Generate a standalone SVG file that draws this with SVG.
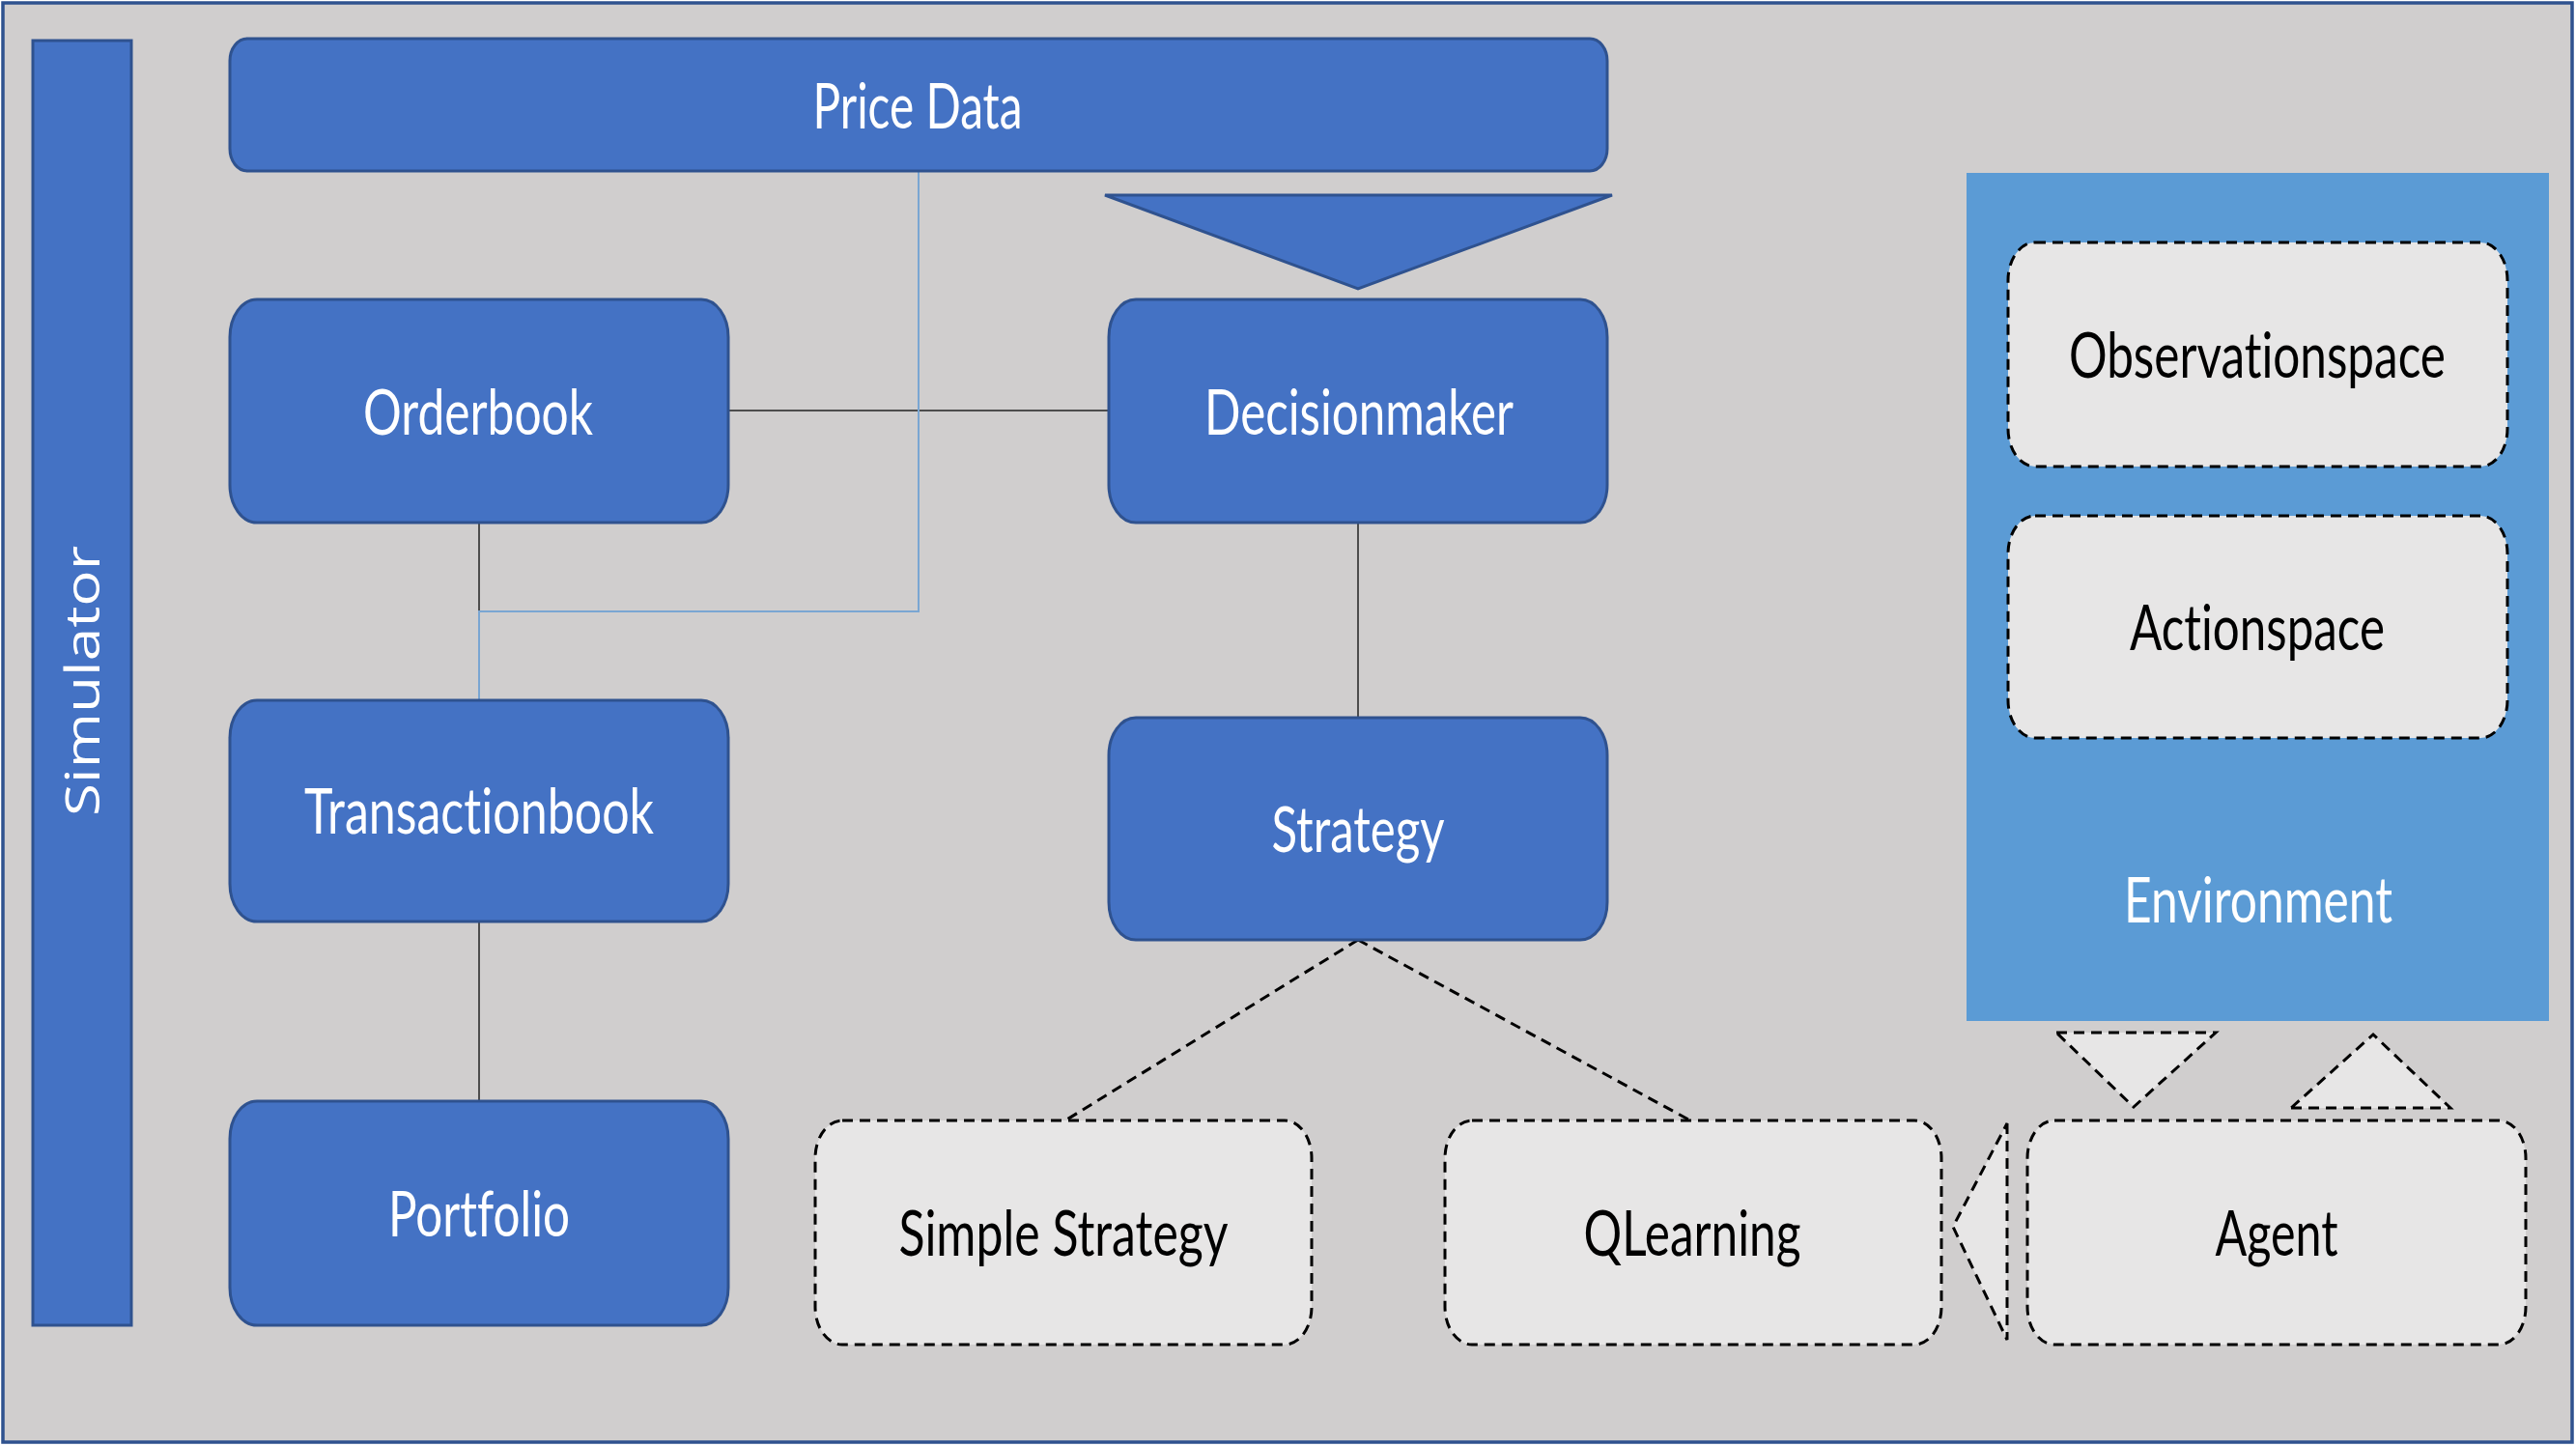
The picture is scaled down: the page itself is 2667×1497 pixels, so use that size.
<svg xmlns="http://www.w3.org/2000/svg" width="2667" height="1497" viewBox="0 0 2667 1497">
<style>
.frame{fill:#D0CECE;stroke:#2F528F;stroke-width:3.5}
.node{fill:#4472C4;stroke:#2F528F;stroke-width:3}
.dash{fill:#E7E6E6;stroke:#000;stroke-width:3;stroke-dasharray:11 7}
.env{fill:#5B9BD5}
.lbl{font-family:Lato,"Open Sans","Liberation Sans",sans-serif;font-size:66px;text-anchor:middle;font-variant-ligatures:none}
.sim{font-family:"Open Sans","Noto Sans","Liberation Sans",sans-serif;font-size:63px;text-anchor:middle;fill:#fff}
.w{fill:#fff}
.k{fill:#000}
.conn{stroke:#4D4D4D;stroke-width:2;fill:none}
.blue{stroke:#7AA6D2;stroke-width:2;fill:none}
.dconn{stroke:#000;stroke-width:3;stroke-dasharray:11 7;fill:none}
</style>
<rect width="2667" height="1497" fill="#ffffff"/>
<rect class="frame" x="3" y="3" width="2660" height="1490"/>

<g id="simulator">
  <rect class="node" x="34" y="42" width="102" height="1330"/>
  <text class="sim" transform="translate(103 705) rotate(-90) scale(1 0.78)" textLength="280" lengthAdjust="spacingAndGlyphs">Simulator</text>
</g>

<g id="connectors">
  <line class="conn" x1="754" y1="425" x2="1148" y2="425"/>
  <line class="conn" x1="496" y1="541" x2="496" y2="725"/>
  <line class="conn" x1="496" y1="954" x2="496" y2="1140"/>
  <line class="conn" x1="1406" y1="541" x2="1406" y2="743"/>
  <polyline class="blue" points="951,177 951,633 496,633 496,725"/>
  <line class="dconn" x1="1406" y1="973" x2="1103" y2="1160"/>
  <line class="dconn" x1="1406" y1="973" x2="1750" y2="1160"/>
</g>

<g id="price-data">
  <rect class="node" x="238" y="40" width="1426" height="137" rx="18" ry="23"/>
  <text class="lbl w" x="950" y="133" textLength="217" lengthAdjust="spacingAndGlyphs">Price Data</text>
</g>

<g id="price-arrow">
  <polygon class="node" points="1144,202 1669,202 1406,299"/>
</g>

<g id="orderbook">
  <rect class="node" x="238" y="310" width="516" height="231" rx="28" ry="39"/>
  <text class="lbl w" x="495" y="450" textLength="238" lengthAdjust="spacingAndGlyphs">Orderbook</text>
</g>

<g id="decisionmaker">
  <rect class="node" x="1148" y="310" width="516" height="231" rx="28" ry="39"/>
  <text class="lbl w" x="1407" y="450" textLength="320" lengthAdjust="spacingAndGlyphs">Decisionmaker</text>
</g>

<g id="transactionbook">
  <rect class="node" x="238" y="725" width="516" height="229" rx="28" ry="39"/>
  <text class="lbl w" x="496" y="863" textLength="362" lengthAdjust="spacingAndGlyphs">Transactionbook</text>
</g>

<g id="portfolio">
  <rect class="node" x="238" y="1140" width="516" height="232" rx="28" ry="39"/>
  <text class="lbl w" x="496" y="1280" textLength="188" lengthAdjust="spacingAndGlyphs">Portfolio</text>
</g>

<g id="strategy">
  <rect class="node" x="1148" y="743" width="516" height="230" rx="28" ry="39"/>
  <text class="lbl w" x="1406" y="882" textLength="179" lengthAdjust="spacingAndGlyphs">Strategy</text>
</g>

<g id="simple-strategy">
  <rect class="dash" x="844" y="1160" width="514" height="232" rx="28" ry="39"/>
  <text class="lbl k" x="1101" y="1300" textLength="341" lengthAdjust="spacingAndGlyphs">Simple Strategy</text>
</g>

<g id="qlearning">
  <rect class="dash" x="1496" y="1160" width="514" height="232" rx="28" ry="39"/>
  <text class="lbl k" x="1752" y="1300" textLength="225" lengthAdjust="spacingAndGlyphs">QLearning</text>
</g>

<g id="agent-to-qlearning">
  <polygon class="dash" points="2078,1163 2078,1387 2022,1270"/>
</g>

<g id="agent">
  <rect class="dash" x="2099" y="1160" width="516" height="232" rx="28" ry="39"/>
  <text class="lbl k" x="2357" y="1300" textLength="127" lengthAdjust="spacingAndGlyphs">Agent</text>
</g>

<g id="env-to-agent">
  <polygon class="dash" points="2129,1069 2294,1069 2209,1146"/>
</g>

<g id="agent-to-env">
  <polygon class="dash" points="2372,1147 2537,1147 2457,1071"/>
</g>

<g id="environment">
  <rect class="env" x="2036" y="179" width="603" height="878"/>
  <text class="lbl w" x="2338" y="955" textLength="278" lengthAdjust="spacingAndGlyphs">Environment</text>
</g>

<g id="observationspace">
  <rect class="dash" x="2079" y="251" width="517" height="232" rx="28" ry="39"/>
  <text class="lbl k" x="2337" y="391" textLength="390" lengthAdjust="spacingAndGlyphs">Observationspace</text>
</g>

<g id="actionspace">
  <rect class="dash" x="2079" y="534" width="517" height="230" rx="28" ry="39"/>
  <text class="lbl k" x="2337" y="673" textLength="264" lengthAdjust="spacingAndGlyphs">Actionspace</text>
</g>
</svg>
